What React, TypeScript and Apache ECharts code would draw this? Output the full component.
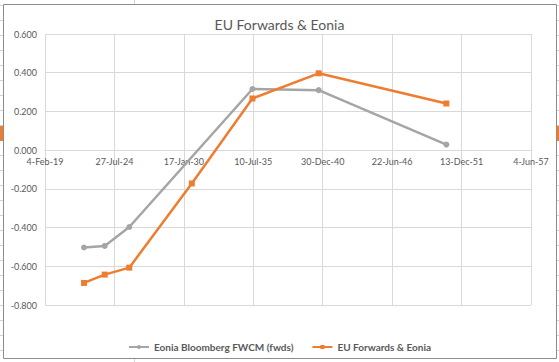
import React, { useEffect, useRef } from "react";
import * as echarts from "echarts";

// ---- data ----
const axisStart = "2019-02-04"; // first date tick (4-Feb-19)
const xTickLabels = ["4-Feb-19", "27-Jul-24", "17-Jan-30", "10-Jul-35", "30-Dec-40", "22-Jun-46", "13-Dec-51", "4-Jun-57"];
const tickStepDays = 2000;

const pointDates = ["2022-03-03", "2023-10-21", "2025-09-28", "2030-09-03", "2035-06-16", "2040-09-05", "2050-10-01"];
const eoniaDates = ["2022-03-03", "2023-10-21", "2025-09-28", "2035-06-16", "2040-09-05", "2050-10-01"];
const eoniaBloomberg = [-0.503, -0.495, -0.397, 0.316, 0.31, 0.029];
const euForwards = [-0.686, -0.643, -0.607, -0.172, 0.267, 0.397, 0.241];

const seriesNames = ["Eonia Bloomberg FWCM (fwds)", "EU Forwards & Eonia"];
const chartTitle = "EU Forwards & Eonia";
const yMin = -0.8;
const yMax = 0.6;
const yStep = 0.2;

const dayOffset = (iso: string) => (Date.parse(iso) - Date.parse(axisStart)) / 86400000;

const GRID_TOP = 34;
const GRID_BOTTOM = 57;
const CHART_H = 362;

export default function App() {
  const ref = useRef<HTMLDivElement>(null);
  useEffect(() => {
    document.body.style.margin = "0";
    const chart = echarts.init(ref.current!, undefined, { renderer: "svg" });
    const font = "Lato, 'Open Sans', sans-serif";
    const plotH = CHART_H - GRID_TOP - GRID_BOTTOM;
    const zeroFromBottom = ((0 - yMin) / (yMax - yMin)) * plotH;
    const rowMarks: any[] = [];
    for (let y = 5; y < 362; y += 15) {
      rowMarks.push({ type: "line", shape: { x1: 0, y1: y + 0.5, x2: 3, y2: y + 0.5 }, style: { stroke: "#d4d4d4", lineWidth: 1 }, silent: true });
      rowMarks.push({ type: "line", shape: { x1: 557, y1: y + 0.5, x2: 559, y2: y + 0.5 }, style: { stroke: "#d4d4d4", lineWidth: 1 }, silent: true });
    }
    chart.setOption({
      animation: false,
      backgroundColor: "#ffffff",
      title: {
        text: chartTitle,
        left: "center",
        top: 12,
        textStyle: { fontFamily: font, fontSize: 14, fontWeight: "normal", color: "#595959" },
      },
      legend: {
        top: 337,
        left: "center",
        itemWidth: 20,
        itemHeight: 5,
        itemGap: 18,
        textStyle: { fontFamily: font, fontSize: 10, fontWeight: "bold", color: "#595959" },
        data: seriesNames,
      },
      grid: { left: 45, right: 28, top: GRID_TOP, bottom: GRID_BOTTOM, containLabel: false },
      xAxis: {
        type: "value",
        min: 0,
        max: tickStepDays * (xTickLabels.length - 1),
        interval: tickStepDays,
        offset: -zeroFromBottom,
        axisLine: { onZero: false, lineStyle: { color: "#d9d9d9", width: 1 } },
        axisTick: { show: false },
        splitLine: { show: true, lineStyle: { color: "#d9d9d9", width: 1 } },
        axisLabel: {
          margin: 7,
          fontFamily: font,
          fontSize: 9,
          color: "#595959",
          showMinLabel: true,
          showMaxLabel: true,
          formatter: (v: number) => xTickLabels[Math.round(v / tickStepDays)] ?? "",
        },
      },
      yAxis: {
        type: "value",
        min: yMin,
        max: yMax,
        interval: yStep,
        axisLine: { show: false },
        axisTick: { show: false },
        splitLine: { show: true, lineStyle: { color: "#d9d9d9", width: 1 } },
        axisLabel: {
          margin: 8,
          fontFamily: font,
          fontSize: 9,
          color: "#595959",
          formatter: (v: number) => v.toFixed(3),
        },
      },
      series: [
        {
          name: seriesNames[0],
          type: "line",
          data: eoniaDates.map((d, i) => [dayOffset(d), eoniaBloomberg[i]]),
          symbol: "circle",
          symbolSize: 6,
          lineStyle: { color: "#a5a5a5", width: 2.5 },
          itemStyle: { color: "#a5a5a5" },
          z: 2,
        },
        {
          name: seriesNames[1],
          type: "line",
          data: pointDates.map((d, i) => [dayOffset(d), euForwards[i]]),
          symbol: "rect",
          symbolSize: 6,
          lineStyle: { color: "#ed7d31", width: 2.5 },
          itemStyle: { color: "#ed7d31" },
          z: 3,
        },
      ],
      graphic: [
        ...rowMarks,
        { type: "line", shape: { x1: 134.5, y1: 0, x2: 134.5, y2: 4 }, style: { stroke: "#d4d4d4", lineWidth: 1 }, silent: true },
        { type: "line", shape: { x1: 134.5, y1: 359, x2: 134.5, y2: 362 }, style: { stroke: "#d4d4d4", lineWidth: 1 }, silent: true },
        { type: "rect", shape: { x: 0, y: 126, width: 3, height: 15 }, style: { fill: "#ed7d31" }, silent: true },
        { type: "rect", shape: { x: 557, y: 126, width: 2, height: 15 }, style: { fill: "#ed7d31" }, silent: true },
        { type: "rect", shape: { x: 3.5, y: 4.5, width: 553, height: 354 }, style: { fill: "none", stroke: "#8c8c8c", lineWidth: 1 }, silent: true, z: 10 },
      ],
    });
    return () => chart.dispose();
  }, []);
  return <div ref={ref} style={{ position: "fixed", left: 0, top: 0, width: 559, height: 362 }} />;
}
